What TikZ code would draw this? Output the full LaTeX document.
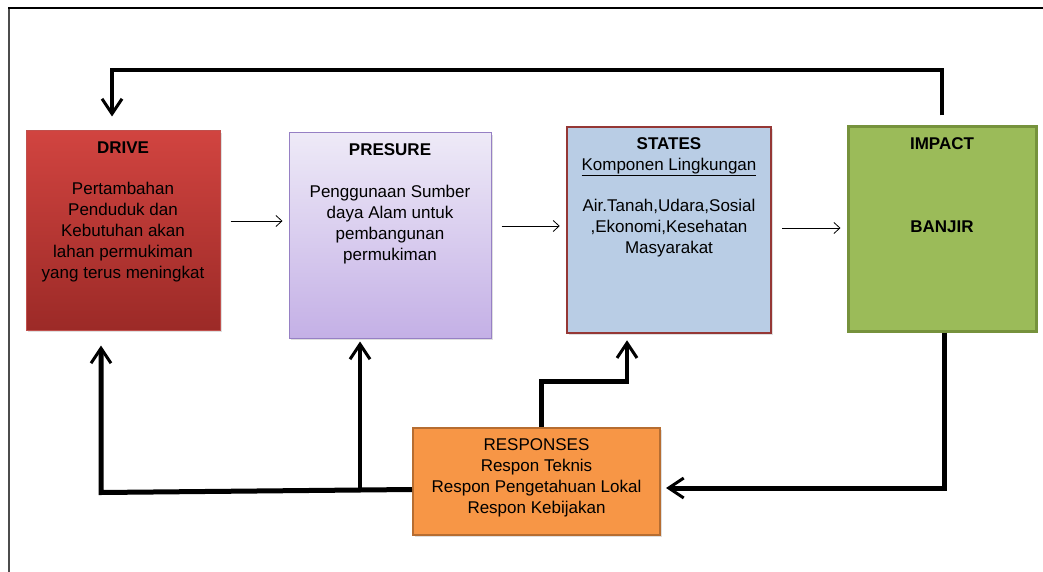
\documentclass[tikz,border=0pt]{standalone}
\usepackage{fontspec}
\setmainfont{Liberation Sans}
\usepackage{tikz}
\usetikzlibrary{arrows.meta,calc,shadows}

\definecolor{drivetop}{RGB}{209,68,64}
\definecolor{drivebot}{RGB}{156,42,39}
\definecolor{driveline}{RGB}{192,80,77}
\definecolor{prestop}{RGB}{238,234,247}
\definecolor{presbot}{RGB}{196,176,230}
\definecolor{presline}{RGB}{150,128,196}
\definecolor{statesfill}{RGB}{185,205,229}
\definecolor{statesline}{RGB}{149,55,53}
\definecolor{impactfill}{RGB}{155,187,89}
\definecolor{impactline}{RGB}{118,146,60}
\definecolor{respfill}{RGB}{247,150,70}
\definecolor{respline}{RGB}{182,109,49}

\begin{document}
\begin{tikzpicture}[x=1pt, y=-1pt,
  font=\fontsize{17}{21}\selectfont,
  box/.style={draw, rectangle, inner sep=0pt,
    drop shadow={opacity=0.25, shadow xshift=2pt, shadow yshift=-2pt}},
  boxtext/.style={anchor=north, align=center, inner sep=0pt},
  flow/.style={-{Straight Barb[length=6pt,width=11pt]}, line width=0.8pt,
    shorten <=10pt, shorten >=6pt},
  feedback/.style={-{Straight Barb[length=15pt,width=20pt,line width=3pt]}, line width=4pt}]

\useasboundingbox (0,0) rectangle (1043,572);

% frame of the page
\draw[gray!60!black, line width=1.5pt] (9,572) -- (9,8);
\draw[line width=2pt] (8,8) -- (1043,8);

% the four boxes of the chain
\path
(123,230.5) node (drive) [box, draw=driveline, line width=1pt,
  top color=drivetop, bottom color=drivebot,
  minimum width=194pt, minimum height=199pt] {}
(390,235.5) node (presure) [box, draw=presline, line width=1pt,
  top color=prestop, bottom color=presbot,
  minimum width=202pt, minimum height=205pt] {}
(669,230) node (states) [box, draw=statesline, line width=2.5pt, fill=statesfill,
  minimum width=204pt, minimum height=206pt] {}
(942,229) node (impact) [box, draw=impactline, line width=3pt, fill=impactfill,
  minimum width=188pt, minimum height=204pt] {}
(536.5,481.5) node (responses) [box, draw=respline, line width=2pt, fill=respfill,
  minimum width=247pt, minimum height=107pt] {};

% texts
\path (drive.north) ++(0,8) node (drivetxt) [boxtext]
{\strut\textbf{DRIVE}\\[20pt] Pertambahan\\ Penduduk dan\\ Kebutuhan akan\\
 lahan permukiman\\ yang terus meningkat};
\path (presure.north) ++(0,8) node (presuretxt) [boxtext]
{\strut\textbf{PRESURE}\\[21pt] Penggunaan Sumber\\ daya Alam untuk\\
 pembangunan\\ permukiman};
\path (states.north) ++(0,9) node (statestxt) [boxtext]
{\strut\textbf{STATES}\\ \underline{Komponen Lingkungan}\\[20pt]
 Air.Tanah,Udara,Sosial\\ ,Ekonomi,Kesehatan\\ Masyarakat};
\path (impact.north) ++(0,9) node (impacttxt) [boxtext]
{\strut\textbf{IMPACT}\\[62pt] \textbf{BANJIR}};
\path (responses.north) ++(0,9) node (responsestxt) [boxtext]
{\strut RESPONSES\\ Respon Teknis\\ Respon Pengetahuan Lokal\\ Respon Kebijakan};

% thin arrows along the chain
\foreach \a/\b/\y in {drive/presure/221, presure/states/226, states/impact/228}
  \draw[flow] (\a.east |- 0,\y) -- (\b.west |- 0,\y);

% loop back over the top
\draw[feedback] ($(impact.north)+(0,-10)$) |- ($(drive.north)+(-11,-60)$)
  -- ($(drive.north)+(-11,-14)$);

% responses back to the chain
\coordinate (split) at (360,489.5);
\draw[feedback, line width=5pt] ($(responses.west)+(0,8)$)
  -- ($(drive.south)+(-22,162)$) -- ($(drive.south)+(-22,15)$);
\draw[feedback, line width=3.5pt] (split) -- ($(split |- presure.south)+(0,3)$);
\draw[feedback, line width=4.5pt] ($(responses.north)+(5,0)$)
  |- ($(states.south)+(-42,47)$) -- ($(states.south)+(-42,6)$);

% impact down to responses
\draw[feedback, line width=5pt] ($(impact.south)+(2,0)$) |- ($(responses.east)+(5,6.5)$);

\end{tikzpicture}
\end{document}
